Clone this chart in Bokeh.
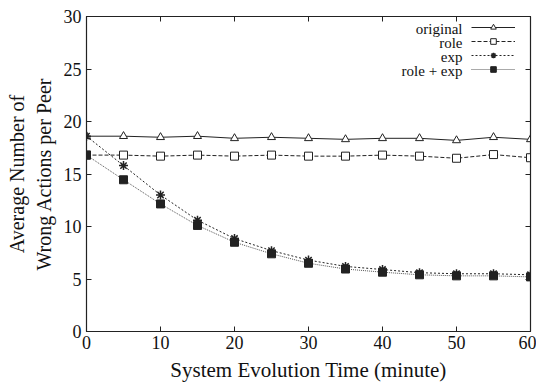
from bokeh.plotting import figure
from bokeh.models import LinearAxis, Legend, LegendItem, FixedTicker, Label
from bokeh.embed import file_html
from bokeh.resources import INLINE

minutes = [0, 5, 10, 15, 20, 25, 30, 35, 40, 45, 50, 55, 60]
original = [18.6, 18.6, 18.5, 18.6, 18.4, 18.5, 18.4, 18.3, 18.4, 18.4, 18.2, 18.5, 18.3]
role = [16.8, 16.8, 16.7, 16.8, 16.7, 16.8, 16.7, 16.7, 16.8, 16.7, 16.5, 16.85, 16.55]
exp = [18.6, 15.8, 13.0, 10.6, 8.85, 7.7, 6.8, 6.2, 5.9, 5.6, 5.5, 5.5, 5.4]
role_exp = [16.8, 14.45, 12.15, 10.1, 8.5, 7.4, 6.5, 5.95, 5.65, 5.4, 5.3, 5.3, 5.2]
series_names = ["original", "role", "exp", "role + exp"]
x_ticks = [0, 10, 20, 30, 40, 50, 60]
y_ticks = [0, 5, 10, 15, 20, 25, 30]

FONT = "Liberation Serif"
INK = "#222222"
TXT = "#111111"

p = figure(width=536, height=384, x_range=(0, 60), y_range=(0, 30),
           output_backend="svg", toolbar_location=None,
           min_border_left=86, min_border_right=6, min_border_top=16, min_border_bottom=52)
p.xgrid.visible = False
p.ygrid.visible = False
p.outline_line_color = INK
p.outline_line_width = 1.2

for ax in (p.xaxis[0], p.yaxis[0]):
    ax.major_tick_in = 5
    ax.major_tick_out = 0
    ax.minor_tick_in = 0
    ax.minor_tick_out = 0
    ax.axis_line_color = INK
    ax.major_tick_line_color = INK
    ax.major_label_text_font = FONT
    ax.major_label_text_font_size = "18px"
    ax.major_label_text_color = TXT
    ax.axis_label_text_font = FONT
    ax.axis_label_text_font_style = "normal"
    ax.axis_label_text_color = TXT

p.xaxis[0].ticker = FixedTicker(ticks=x_ticks)
p.yaxis[0].ticker = FixedTicker(ticks=y_ticks)
p.xaxis[0].axis_label = "System Evolution Time (minute)"
p.yaxis[0].axis_label = "Average Number of\nWrong Actions per Peer"
p.xaxis[0].axis_label_text_font_size = "21px"
p.yaxis[0].axis_label_text_font_size = "20px"
p.xaxis[0].major_label_standoff = 4
p.yaxis[0].major_label_standoff = 5
p.xaxis[0].axis_label_standoff = 6
p.yaxis[0].axis_label_standoff = 6

top = LinearAxis(ticker=FixedTicker(ticks=x_ticks), major_label_text_color=None,
                 major_label_text_font_size="1px",
                 major_tick_in=5, major_tick_out=0, minor_tick_in=0, minor_tick_out=0,
                 axis_line_color=INK, major_tick_line_color=INK, major_label_standoff=0)
right = LinearAxis(ticker=FixedTicker(ticks=y_ticks), major_label_text_color=None,
                   major_label_text_font_size="1px",
                   major_tick_in=5, major_tick_out=0, minor_tick_in=0, minor_tick_out=0,
                   axis_line_color=INK, major_tick_line_color=INK, major_label_standoff=0)
p.add_layout(top, "above")
p.add_layout(right, "right")

l1 = p.line(minutes, original, line_color=INK, line_width=1)
m1 = p.scatter(minutes, original, marker="triangle", size=8, line_color=INK,
               fill_color="white", line_width=1)
l2 = p.line(minutes, role, line_color=INK, line_width=1, line_dash="4 2")
m2 = p.scatter(minutes, role, marker="square", size=8, line_color=INK,
               fill_color="white", line_width=1)
l3 = p.line(minutes, exp, line_color=INK, line_width=1, line_dash="2 2")
m3 = p.scatter(minutes, exp, marker="asterisk", size=9, line_color=INK, line_width=1.5)
l4 = p.line(minutes, role_exp, line_color="#555555", line_width=1, line_dash="1 1")
m4 = p.scatter(minutes, role_exp, marker="square", size=8, line_color=INK,
               fill_color=INK, line_width=1)

# legend: glyph samples on the right, right-aligned names to their left
legend = Legend(items=[
    LegendItem(label="", renderers=[l1, m1]),
    LegendItem(label="", renderers=[l2, m2]),
    LegendItem(label="", renderers=[l3, m3]),
    LegendItem(label="", renderers=[l4, m4]),
], location="top_right")
legend.label_text_font_size = "1px"
legend.border_line_color = None
legend.background_fill_alpha = 0
legend.glyph_width = 44
legend.glyph_height = 14
legend.label_height = 14
legend.label_width = 7
legend.label_standoff = 4
legend.spacing = 0
legend.padding = 2
legend.margin = 4
p.add_layout(legend)

frame_h = 384 - 16 - 52
for i, name in enumerate(series_names):
    p.add_layout(Label(x=376, y=frame_h - 13 - 14 * i, x_units="screen", y_units="screen",
                       text=name, text_align="right", text_baseline="middle",
                       text_font=FONT, text_font_size="15px", text_color=TXT))

open("out.html", "w").write(file_html(p, INLINE))
